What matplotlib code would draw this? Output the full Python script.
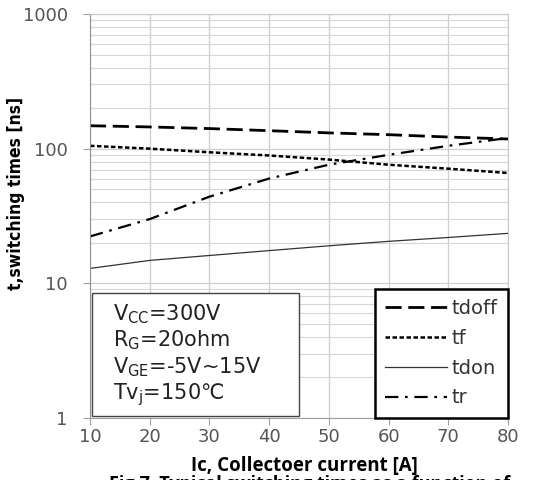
import matplotlib.pyplot as plt
import numpy as np

# collector current [A]
ic = [10, 20, 30, 40, 50, 60, 70, 80]

# switching times [ns]
tdoff = [148, 145, 141, 136, 131, 127, 122, 118]
tf = [105, 100, 94, 89, 83, 76, 71, 66]
tdon = [12.9, 14.8, 16.1, 17.5, 19.0, 20.5, 21.9, 23.5]
tr = [22.3, 30, 44, 60, 76, 90, 105, 120]

y_ticks = [1, 10, 100, 1000]
y_tick_labels = ['1', '10', '100', '1000']

W, H = 541, 480
fig = plt.figure(figsize=(W / 100, H / 100), dpi=100)
ax = fig.add_axes([90 / W, 62 / H, 418 / W, 404 / H])

ax.plot(ic, tdoff, color='black', lw=2.0, dashes=(5.8, 2.4), label='tdoff')
ax.plot(ic, tf, color='black', lw=1.8, dashes=(1.8, 1.0), label='tf')
ax.plot(ic, tdon, color='#333333', lw=0.9, label='tdon')
ax.plot(ic, tr, color='black', lw=1.6, dashes=(6, 3, 1.2, 3), label='tr')

ax.set_yscale('log')
ax.set_xlim(10, 80)
ax.set_ylim(1, 1000)
ax.set_xticks(ic)
ax.set_yticks(y_ticks)
ax.set_yticklabels(y_tick_labels)

ax.grid(True, which='major', color='#cfcfcf', lw=0.9)
ax.grid(True, which='minor', axis='y', color='#d6d6d6', lw=0.8)
ax.set_axisbelow(True)
ax.tick_params(axis='both', which='major', direction='out', length=5,
               color='#a0a0a0', labelcolor='#555555', labelsize=13)
ax.tick_params(axis='y', which='major', pad=11)
ax.tick_params(axis='x', which='major', pad=2)
ax.tick_params(axis='y', which='minor', length=0)
for s in ax.spines.values():
    s.set_color('#c8c8c8')
ax.spines['left'].set_color('#909090')
ax.spines['bottom'].set_color('#a0a0a0')

# axis labels
fig.text(16 / W, 1 - 193 / H, 't,switching times [ns]', rotation=90,
         ha='center', va='center', fontsize=12.5, fontweight='bold',
         fontstretch='condensed', family=['Liberation Sans Narrow', 'DejaVu Sans'])
fig.text(304 / W, 1 - 466 / H, 'Ic, Collectoer current [A]', ha='center',
         va='center', fontsize=13.5, fontweight='bold', family=['Open Sans', 'DejaVu Sans'])
fig.text(310 / W, 1 - 475 / H, 'Fig.7  Typical switching times as a function of',
         ha='center', va='top', fontsize=13, fontweight='bold',
         family=['Open Sans', 'DejaVu Sans'])

# conditions box
cond_box = plt.Rectangle((92 / W, 1 - 416 / H), 207 / W, 123 / H, transform=fig.transFigure,
                         facecolor='white', edgecolor='#444444', lw=1.0, zorder=5)
fig.add_artist(cond_box)
cond = [r'V$_{\rm CC}$=300V', r'R$_{\rm G}$=20ohm', r'V$_{\rm GE}$=-5V~15V', r'Tv$_{\rm j}$=150℃']
for i, t in enumerate(cond):
    fig.text(113 / W, 1 - (314 + 26.7 * i) / H, t, ha='left', va='center',
             fontsize=15, color='#222222', zorder=6,
             family=['DejaVu Sans', 'Noto Sans CJK SC'])

# legend
leg = ax.legend(loc='lower right', bbox_to_anchor=(1.0, 0.0), fontsize=14,
                frameon=True, fancybox=False, borderpad=0.55, labelspacing=0.55,
                handlelength=3.2, handletextpad=0.2, borderaxespad=0.0)
leg.get_frame().set_edgecolor('black')
leg.get_frame().set_linewidth(1.8)
leg.get_frame().set_alpha(1)
for t in leg.get_texts():
    t.set_color('#333333')
leg.set_zorder(6)

fig.savefig('out.png', dpi=100)
